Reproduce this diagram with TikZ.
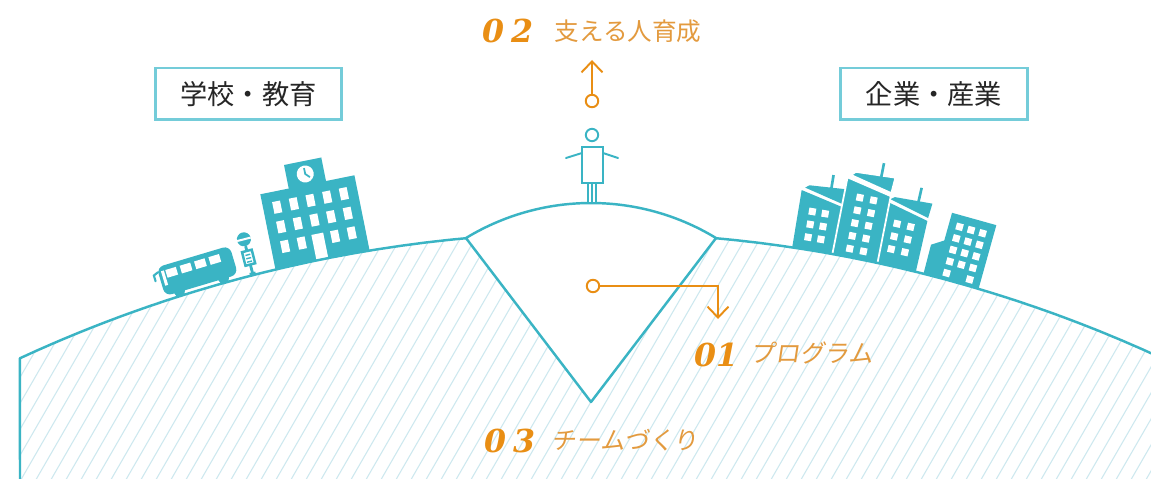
\documentclass[tikz,border=0pt]{standalone}
\usepackage{fontspec}
\newfontfamily\jp{Noto Sans CJK JP}
\newfontfamily\jpsl{Noto Sans CJK JP}[FakeSlant=0.15]
\newfontfamily\numfont{DejaVu Serif}
\usetikzlibrary{arrows.meta}

\definecolor{skyteal}{HTML}{3AB4C4}
\definecolor{boxteal}{HTML}{74CCD9}
\definecolor{hatchblue}{HTML}{CDE8EF}
\definecolor{accent}{HTML}{E98E14}
\definecolor{accenttext}{HTML}{E39A3E}

\begin{document}
\begin{tikzpicture}[x=0.02cm,y=-0.02cm,
  groundline/.style={draw=skyteal, line width=1.4pt, line join=round},
  hatchline/.style={draw=hatchblue, line width=0.6pt},
  iconfill/.style={fill=skyteal},
  onground/.style={shift={({591+1359*sin(#1)},{1591.4-1359*cos(#1)})}, rotate={-(#1)}},
  tagbox/.style={draw=boxteal, line width=1.7pt, minimum width=3.74cm, minimum height=1.04cm,
    inner sep=0pt, font=\jp\fontsize{15.5}{16}\selectfont, text=black!85},
  numlabel/.style={text=accent, font=\numfont\fontsize{18}{18}\selectfont\bfseries\itshape, inner sep=0pt},
  jplabel/.style={text=accenttext, font=\jp\fontsize{14}{14}\selectfont, inner sep=0pt},
  jpslanted/.style={jplabel, font=\jpsl\fontsize{14}{14}\selectfont},
  ptdot/.style={circle, draw=accent, line width=1.1pt, fill=white, minimum size=0.25cm, inner sep=0pt},
  ptarrow/.style={draw=accent, line width=1.1pt, -{Straight Barb[length=0.22cm,width=0.42cm]}},
  personline/.style={draw=skyteal, line width=1.1pt},
]
\useasboundingbox (0,0) rectangle (1151,479);
\clip (0,0) rectangle (1151,479);
\fill[white] (0,0) rectangle (1151,479);

% ---------- school, bus and bus stop (left) ----------
\begin{scope}[onground=-11.4]
  \fill[iconfill] (-48,10) rectangle (48,-76);
  \fill[iconfill] (-19,-70) rectangle (19,-100);
  \fill[white] (0,-87) circle[radius=8.5];
  \draw[skyteal, line width=1pt] (0,-93) -- (0,-87) -- (4,-83);
  \foreach \c in {-34,-17,0,17,34}
    \foreach \r in {-66,-46}
      \fill[white] (\c-4,\r) rectangle (\c+4,\r+12);
  \foreach \c in {-34,-17,17,34}
    \fill[white] (\c-4,-26) rectangle (\c+4,-14);
  \fill[white] (-6,-26) rectangle (6,2);
\end{scope}

\begin{scope}[onground=-16.6]
  \fill[iconfill, rounded corners=4pt] (-38,-4) rectangle (38,-34);
  \foreach \c in {-25,-10,5,20}
    \fill[white] (\c-5.5,-29) rectangle (\c+5.5,-21);
  \fill[white] (-35,-29) rectangle (-32,-14);
  \fill[iconfill] (-23,-4) circle[radius=5.5];
  \fill[iconfill] (23,-4) circle[radius=5.5];
  \draw[skyteal, line width=1.2pt, line cap=round] (-38,-29) -- (-43,-27) -- (-43,-21);
\end{scope}

\begin{scope}[onground=-14.4]
  \draw[skyteal, line width=1.6pt] (0,4) -- (0,-30);
  \fill[iconfill] (0,-37) circle[radius=7];
  \fill[white] (-7,-38) rectangle (7,-36);
  \filldraw[fill=white, draw=skyteal, line width=1.4pt] (-5,-25) rectangle (5,-11);
  \draw[skyteal, line width=0.8pt] (-2.5,-21) -- (2.5,-21) (-2.5,-17.5) -- (2.5,-17.5) (-2.5,-14) -- (2.5,-14);
  \fill[iconfill] (-3,-3) rectangle (3,4);
\end{scope}

% ---------- office buildings (right) ----------
\begin{scope}[onground=12.9]
  \fill[iconfill] (-22,10) -- (-22,-62) -- (22,-52) -- (22,10) -- cycle;
  \fill[iconfill] (-19,-65) -- (22,-55) -- (23,-70) -- (-15,-68) -- cycle;
  \draw[skyteal, line width=1.5pt] (9,-66) -- (9,-83);
  \foreach \c in {-7,7}
    \foreach \r in {-46,-33,-20}
      \fill[white] (\c-3.5,\r) rectangle (\c+3.5,\r+7);
\end{scope}

\begin{scope}[onground=9.4]
  \fill[iconfill] (-21,10) -- (-21,-58) -- (21,-48) -- (21,10) -- cycle;
  \fill[iconfill] (-18,-61) -- (21,-51) -- (22,-66) -- (-14,-64) -- cycle;
  \draw[skyteal, line width=1.5pt] (8,-62) -- (8,-78);
  \foreach \c in {-7,6}
    \foreach \r in {-42,-29,-16}
      \fill[white] (\c-3.5,\r) rectangle (\c+3.5,\r+7);
\end{scope}

\begin{scope}[onground=11.2]
  \filldraw[fill=skyteal, draw=white, line width=1pt] (-23,10) -- (-23,-78) -- (23,-68) -- (23,10) -- cycle;
  \filldraw[fill=skyteal, draw=white, line width=1pt] (-20,-81) -- (23,-71) -- (24,-87) -- (-16,-85) -- cycle;
  \draw[skyteal, line width=1.5pt] (10,-85) -- (10,-99);
  \foreach \c in {-7,7}
    \foreach \r in {-64,-51,-38,-25,-12}
      \fill[white] (\c-3.5,\r) rectangle (\c+3.5,\r+7);
\end{scope}

\begin{scope}[onground=14.5]
  \fill[iconfill] (-8,10) -- (-8,-30) -- (8,-40) -- (8,10) -- cycle;
\end{scope}

\begin{scope}[onground=15.6]
  \fill[iconfill] (-23,10) rectangle (23,-66);
  \foreach \c in {-12,0,12}
    \foreach \r in {-58,-46,-34,-22}
      \fill[white] (\c-3.5,\r) rectangle (\c+3.5,\r+7);
  \foreach \c in {-12,12}
    \fill[white] (\c-3.5,-10) rectangle (\c+3.5,-3);
\end{scope}

% ---------- ground: white fill, hatching, outline ----------
\fill[white] (20,490)
  -- plot[domain=-114.85:-95.28, samples=80] ({591+1359*cos(\x)},{1591.4+1359*sin(\x)})
  -- (591,402)
  -- plot[domain=-84.72:-62, samples=80] ({591+1359*cos(\x)},{1591.4+1359*sin(\x)})
  -- (1240,490) -- cycle;

\begin{scope}
  \clip (20,490)
    -- plot[domain=-114.85:-95.28, samples=80] ({591+1359*cos(\x)},{1591.4+1359*sin(\x)})
    -- (591,402)
    -- plot[domain=-84.72:-62, samples=80] ({591+1359*cos(\x)},{1591.4+1359*sin(\x)})
    -- (1240,490) -- cycle;
  \foreach \k in {-15,...,80}
    \draw[hatchline] ({15*\k},490) -- ++(-60:620);
\end{scope}

\draw[groundline] (20,490)
  -- plot[domain=-114.85:-95.28, samples=80] ({591+1359*cos(\x)},{1591.4+1359*sin(\x)});
\draw[groundline]
  plot[domain=-84.72:-62, samples=80] ({591+1359*cos(\x)},{1591.4+1359*sin(\x)});
\draw[groundline]
  plot[domain=-121.3:-58.7, samples=60] ({591+240.7*cos(\x)},{443.7+240.7*sin(\x)})
  -- (591,402) -- cycle;

% ---------- person on the hill ----------
\draw[personline, fill=white] (592,135) circle[radius=6.2];
\draw[personline, fill=white] (582,147) rectangle (603,183);
\draw[personline, line cap=round] (582,153) -- (566,158) (603,153) -- (618,158);
\draw[personline, fill=white] (588,183) rectangle (596,203);
\draw[personline] (592,183) -- (592,203);

% ---------- pointers ----------
\node[ptdot] (d2) at (592,101) {};
\coordinate (t2) at (592,60);
\draw[ptarrow] (d2) -- (t2);

\node[ptdot] (d1) at (593,286) {};
\coordinate (t1) at (718,319);
\draw[ptarrow] (d1) -| (t1);

% ---------- labels ----------
\node[numlabel] (n2) at (508,31) {0\hspace{0.22em}2};
\node[jplabel] (l2) at (628,31) {支える人育成};
\node[numlabel] (n1) at (716,355) {01};
\node[jpslanted] (l1) at (812,353) {プログラム};
\node[numlabel] (n3) at (510,441) {0\hspace{0.22em}3};
\node[jpslanted] (l3) at (625,440) {チームづくり};

\node[tagbox] (school) at (248.5,94) {学校・教育};
\node[tagbox] (industry) at (934,94) {企業・産業};
\end{tikzpicture}
\end{document}
